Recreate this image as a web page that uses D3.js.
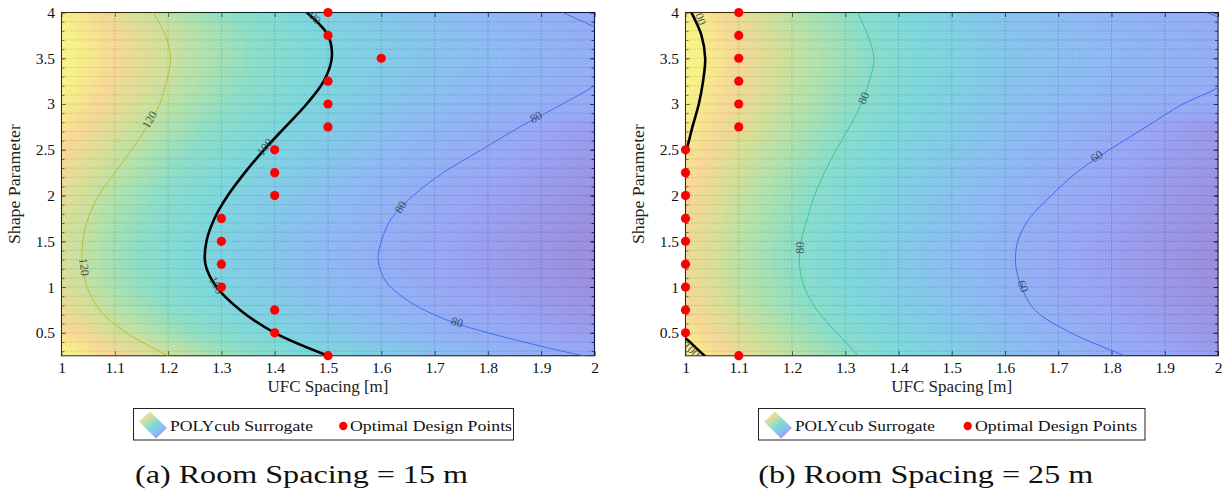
<!DOCTYPE html>
<html>
<head>
<meta charset="utf-8">
<script src="https://cdn.jsdelivr.net/npm/d3@7"></script>
<style>
  body { margin: 0; background: #fff; }
  svg { display: block; font-family: "Liberation Serif", "Times New Roman", serif; }
</style>
</head>
<body>
<svg id="chart" width="1226" height="492"></svg>
<script>
// ---------------- data ----------------
const xTicks = [1, 1.1, 1.2, 1.3, 1.4, 1.5, 1.6, 1.7, 1.8, 1.9, 2];
const xTickLabels = ["1", "1.1", "1.2", "1.3", "1.4", "1.5", "1.6", "1.7", "1.8", "1.9", "2"];
const yTicks = [0.5, 1, 1.5, 2, 2.5, 3, 3.5, 4];
const yTickLabels = ["0.5", "1", "1.5", "2", "2.5", "3", "3.5", "4"];

// surrogate surface samples: columns = UFC spacing, rows = shape parameter
const ufcSpacing = [1.0, 1.1, 1.2, 1.3, 1.4, 1.5, 1.6, 1.7, 1.8, 1.9, 2.0];
const shapeParameter = [0.25, 0.5, 0.75, 1.0, 1.25, 1.5, 1.75, 2.0, 2.25, 2.5, 2.75, 3.0, 3.25, 3.5, 3.75, 4.0];

const surrogate15 = [
  [144.0, 132.2, 122.2, 113.7, 106.4, 100.0, 94.3, 89.3, 84.8, 80.8, 77.2],
  [135.4, 124.3, 114.9, 106.9, 100.0, 94.0, 88.7, 84.0, 79.8, 76.0, 72.6],
  [129.7, 119.0, 110.1, 102.4, 95.8, 90.1, 85.0, 80.5, 76.4, 72.8, 69.5],
  [125.8, 115.5, 106.8, 99.3, 92.9, 87.3, 82.4, 78.0, 74.1, 70.6, 67.4],
  [124.0, 113.8, 105.2, 97.9, 91.6, 86.1, 81.2, 76.9, 73.1, 69.6, 66.5],
  [124.2, 114.0, 105.4, 98.1, 91.7, 86.2, 81.4, 77.0, 73.2, 69.7, 66.6],
  [125.6, 115.3, 106.6, 99.2, 92.8, 87.2, 82.3, 77.9, 74.0, 70.5, 67.3],
  [127.5, 117.0, 108.2, 100.7, 94.2, 88.5, 83.5, 79.1, 75.1, 71.6, 68.3],
  [130.5, 119.8, 110.8, 103.1, 96.4, 90.6, 85.5, 80.9, 76.9, 73.2, 69.9],
  [133.5, 122.5, 113.3, 105.4, 98.6, 92.7, 87.5, 82.8, 78.7, 74.9, 71.5],
  [137.0, 125.7, 116.3, 108.2, 101.2, 95.1, 89.7, 85.0, 80.7, 76.9, 73.4],
  [140.6, 129.0, 119.3, 111.0, 103.9, 97.6, 92.1, 88.0, 84.4, 81.4, 78.9],
  [143.4, 131.6, 121.7, 113.2, 105.9, 99.6, 93.9, 89.8, 86.0, 82.7, 79.9],
  [144.6, 132.7, 122.7, 114.2, 106.8, 100.4, 94.7, 90.6, 86.9, 83.6, 80.6],
  [144.0, 132.2, 122.2, 113.7, 106.4, 100.0, 94.3, 90.3, 86.6, 83.3, 80.3],
  [140.6, 129.0, 119.3, 111.0, 103.9, 97.6, 92.1, 88.2, 84.8, 81.8, 79.2]
];

const surrogate25 = [
  [103.1, 94.6, 87.5, 81.4, 76.2, 71.6, 67.5, 64.0, 60.7, 57.9, 55.3],
  [100.1, 91.9, 85.0, 79.0, 73.9, 69.5, 65.6, 62.1, 59.0, 56.2, 53.6],
  [97.4, 89.4, 82.7, 76.9, 71.9, 67.6, 63.8, 60.4, 57.4, 54.7, 52.2],
  [95.9, 88.0, 81.4, 75.7, 70.8, 66.6, 62.8, 59.5, 56.5, 53.8, 51.4],
  [95.3, 87.5, 80.9, 75.3, 70.4, 66.2, 62.4, 59.1, 56.2, 53.5, 51.1],
  [95.5, 87.6, 81.1, 75.4, 70.5, 66.3, 62.6, 59.2, 56.3, 53.6, 51.2],
  [96.3, 88.4, 81.7, 76.0, 71.1, 66.9, 63.1, 59.7, 56.7, 54.0, 51.6],
  [97.2, 89.2, 82.5, 76.8, 71.8, 67.5, 63.7, 60.3, 57.3, 54.5, 52.1],
  [98.6, 90.5, 83.7, 77.9, 72.8, 68.5, 64.6, 61.2, 58.1, 55.3, 52.8],
  [100.1, 91.9, 85.0, 79.0, 73.9, 69.5, 65.6, 62.1, 59.0, 56.2, 53.6],
  [101.9, 93.5, 86.5, 80.5, 75.3, 70.7, 66.8, 63.2, 60.0, 57.2, 54.6],
  [103.4, 94.9, 87.8, 81.7, 76.4, 71.8, 67.7, 65.0, 62.6, 60.7, 59.2],
  [104.5, 95.9, 88.7, 82.5, 77.2, 72.6, 68.5, 65.9, 63.6, 61.8, 60.3],
  [105.1, 96.5, 89.2, 83.0, 77.6, 73.0, 68.9, 66.4, 64.1, 62.2, 60.8],
  [104.2, 95.6, 88.4, 82.3, 77.0, 72.3, 68.3, 66.0, 63.8, 61.9, 60.5],
  [102.9, 94.4, 87.3, 81.3, 76.0, 71.4, 67.4, 65.0, 62.9, 61.1, 59.8]
];

// iso-lines of the surrogate, [UFC spacing, shape parameter]
const contour15_120 = [[1.2, 0.25], [1.122, 0.5], [1.072, 0.75], [1.048, 1.0], [1.039, 1.25], [1.04, 1.5], [1.05, 1.75], [1.07, 2.0], [1.10, 2.25], [1.132, 2.5], [1.16, 2.75], [1.184, 3.0], [1.197, 3.25], [1.205, 3.5], [1.195, 3.75], [1.172, 4.0]];
const contour15_100 = [[1.5, 0.25], [1.40, 0.5], [1.335, 0.75], [1.291, 1.0], [1.270, 1.25], [1.272, 1.5], [1.287, 1.75], [1.312, 2.0], [1.344, 2.25], [1.380, 2.5], [1.420, 2.75], [1.46, 3.0], [1.492, 3.25], [1.507, 3.5], [1.50, 3.75], [1.46, 4.0]];
const contour15_80 = [[1.94, 4.0], [2.0, 3.845], [2.04, 3.75], [2.06, 3.6], [2.045, 3.4], [2.0, 3.2], [1.94, 3.0], [1.86, 2.75], [1.788, 2.5], [1.716, 2.25], [1.66, 2.0], [1.619, 1.75], [1.60, 1.5], [1.594, 1.3], [1.607, 1.076], [1.648, 0.858], [1.723, 0.64], [1.804, 0.494], [1.891, 0.366], [1.973, 0.257], [1.99, 0.24]];

const contour25_100a = [[1.011, 4.0], [1.03, 3.75], [1.037, 3.5], [1.033, 3.25], [1.025, 3.0], [1.013, 2.75], [1.002, 2.5], [0.99, 2.3]];
const contour25_100b = [[0.99, 0.47], [1.0, 0.44], [1.036, 0.25], [1.05, 0.2]];
const contour25_80 = [[1.323, 4.0], [1.342, 3.75], [1.354, 3.5], [1.345, 3.25], [1.33, 3.0], [1.308, 2.75], [1.283, 2.5], [1.261, 2.25], [1.242, 2.0], [1.229, 1.75], [1.217, 1.5], [1.214, 1.25], [1.223, 1.0], [1.247, 0.75], [1.284, 0.5], [1.325, 0.25]];
const contour25_60 = [[1.978, 4.0], [2.0, 3.95], [2.04, 3.8], [2.06, 3.6], [2.04, 3.37], [2.0, 3.18], [1.934, 3.0], [1.865, 2.75], [1.796, 2.5], [1.734, 2.25], [1.687, 2.0], [1.646, 1.75], [1.624, 1.5], [1.62, 1.25], [1.631, 1.0], [1.656, 0.75], [1.724, 0.5], [1.825, 0.25]];

// optimal design points, [UFC spacing, shape parameter]
const optimal15 = [[1.5, 4.0], [1.5, 3.75], [1.6, 3.5], [1.5, 3.25], [1.5, 3.0], [1.5, 2.75], [1.4, 2.5], [1.4, 2.25], [1.4, 2.0], [1.3, 1.75], [1.3, 1.5], [1.3, 1.25], [1.3, 1.0], [1.4, 0.75], [1.4, 0.5], [1.5, 0.25]];
const optimal25 = [[1.1, 4.0], [1.1, 3.75], [1.1, 3.5], [1.1, 3.25], [1.1, 3.0], [1.1, 2.75], [1.0, 2.5], [1.0, 2.25], [1.0, 2.0], [1.0, 1.75], [1.0, 1.5], [1.0, 1.25], [1.0, 1.0], [1.0, 0.75], [1.0, 0.5], [1.1, 0.25]];

// ---------------- styling ----------------
const cmapStops = [0, 0.12, 0.25, 0.35, 0.45, 0.55, 0.65, 0.75, 0.85, 0.97];
const cmapColors = ["#391fbd", "#354ded", "#1f75e9", "#0997d1", "#00b1b9", "#1dbd91", "#69c559", "#b5bf31", "#f1b131", "#ede511"];
const cmap = d3.scaleLinear().domain(cmapStops).range(cmapColors).interpolate(d3.interpolateRgb).clamp(true);
const SURF_ALPHA = 0.5;

const Y_TOP = 12.5, Y_BOT = 355.7;
const svg = d3.select("#chart");
const defs = svg.append("defs");

// catmull-rom helper for smooth shading between samples
function cr(p0, p1, p2, p3, t) {
  const t2 = t * t, t3 = t2 * t;
  return 0.5 * ((2 * p1) + (-p0 + p2) * t + (2 * p0 - 5 * p1 + 4 * p2 - p3) * t2 + (-p0 + 3 * p1 - 3 * p2 + p3) * t3);
}
function sampleGrid(grid, xv, sv) {
  const nx = ufcSpacing.length, ny = shapeParameter.length;
  const i = Math.max(0, Math.min(nx - 2, d3.bisectRight(ufcSpacing, xv) - 1));
  const j = Math.max(0, Math.min(ny - 2, d3.bisectRight(shapeParameter, sv) - 1));
  const tx = Math.max(0, Math.min(1, (xv - ufcSpacing[i]) / (ufcSpacing[i + 1] - ufcSpacing[i])));
  const ty = Math.max(0, Math.min(1, (sv - shapeParameter[j]) / (shapeParameter[j + 1] - shapeParameter[j])));
  const cx = k => Math.max(0, Math.min(nx - 1, k));
  const cy = k => Math.max(0, Math.min(ny - 1, k));
  const rows = [-1, 0, 1, 2].map(dj => {
    const r = grid[cy(j + dj)];
    return cr(r[cx(i - 1)], r[cx(i)], r[cx(i + 1)], r[cx(i + 2)], tx);
  });
  return cr(rows[0], rows[1], rows[2], rows[3], ty);
}

function drawPanel(cfg) {
  const { id, x0, x1, grid, contours, labels, points, legend, caption, yTitleX } = cfg;
  const x = d3.scaleLinear().domain([1, 2]).range([x0, x1]);
  const y = d3.scaleLinear().domain([0.25, 4]).range([Y_BOT, Y_TOP]);
  const g = svg.append("g");

  defs.append("clipPath").attr("id", "clip" + id)
    .append("rect").attr("x", x0).attr("y", Y_TOP).attr("width", x1 - x0).attr("height", Y_BOT - Y_TOP);

  // dotted grid
  const yMinor = d3.range(3, 41).map(d => d / 10);
  g.append("g").selectAll("line").data(yMinor).join("line")
    .attr("x1", x0).attr("x2", x1).attr("y1", d => y(d)).attr("y2", d => y(d))
    .attr("stroke", "#6f6f6f").attr("stroke-width", 0.8).attr("stroke-dasharray", "0.9 2.1");
  g.append("g").selectAll("line").data(xTicks.slice(1, -1)).join("line")
    .attr("y1", Y_TOP).attr("y2", Y_BOT).attr("x1", d => x(d)).attr("x2", d => x(d))
    .attr("stroke", "#6f6f6f").attr("stroke-width", 0.8).attr("stroke-dasharray", "0.9 2.1");

  // axes
  const styleAxis = sel => {
    sel.select(".domain").remove();
    sel.selectAll("text").attr("font-family", "Liberation Serif, serif").attr("font-size", 15.5).attr("fill", "#111");
    sel.selectAll("line").attr("stroke", "#000").attr("stroke-width", 0.9);
  };
  g.append("g").attr("transform", `translate(0,${Y_BOT})`)
    .call(d3.axisBottom(x).tickValues(xTicks).tickFormat((d, i) => xTickLabels[i]).tickSizeInner(-4.5).tickSizeOuter(0).tickPadding(6.5))
    .call(styleAxis);
  g.append("g").attr("transform", `translate(0,${Y_TOP})`)
    .call(d3.axisTop(x).tickValues(xTicks).tickFormat("").tickSizeInner(-4.5).tickSizeOuter(0))
    .call(styleAxis);
  g.append("g").attr("transform", `translate(${x0},0)`)
    .call(d3.axisLeft(y).tickValues(yTicks).tickFormat((d, i) => yTickLabels[i]).tickSizeInner(-4.5).tickSizeOuter(0).tickPadding(6.5))
    .call(styleAxis);
  g.append("g").attr("transform", `translate(${x0},0)`)
    .call(d3.axisLeft(y).tickValues(yMinor).tickFormat("").tickSizeInner(-3).tickSizeOuter(0))
    .call(styleAxis);
  g.append("g").attr("transform", `translate(${x1},0)`)
    .call(d3.axisRight(y).tickValues(yTicks).tickFormat("").tickSizeInner(-4.5).tickSizeOuter(0))
    .call(styleAxis);
  g.append("g").attr("transform", `translate(${x1},0)`)
    .call(d3.axisRight(y).tickValues(yMinor).tickFormat("").tickSizeInner(-3).tickSizeOuter(0))
    .call(styleAxis);

  g.append("rect").attr("x", x0).attr("y", Y_TOP).attr("width", x1 - x0).attr("height", Y_BOT - Y_TOP)
    .attr("fill", "none").attr("stroke", "#000").attr("stroke-width", 1.1);

  // translucent shaded surface
  const [vmin, vmax] = d3.extent(grid.flat());
  const w = Math.round(x1 - x0), h = Math.round(Y_BOT - Y_TOP);
  const canvas = document.createElement("canvas");
  canvas.width = w; canvas.height = h;
  const ctx = canvas.getContext("2d");
  const img = ctx.createImageData(w, h);
  for (let py = 0; py < h; py++) {
    const sv = y.invert(Y_TOP + (py + 0.5) * (Y_BOT - Y_TOP) / h);
    for (let px = 0; px < w; px++) {
      const xv = x.invert(x0 + (px + 0.5) * (x1 - x0) / w);
      const v = sampleGrid(grid, xv, sv);
      const c = d3.rgb(cmap((v - vmin) / (vmax - vmin)));
      const k = (py * w + px) * 4;
      img.data[k] = c.r; img.data[k + 1] = c.g; img.data[k + 2] = c.b; img.data[k + 3] = Math.round(255 * SURF_ALPHA);
    }
  }
  ctx.putImageData(img, 0, 0);
  g.append("image").attr("href", canvas.toDataURL()).attr("x", x0).attr("y", Y_TOP)
    .attr("width", x1 - x0).attr("height", Y_BOT - Y_TOP).attr("preserveAspectRatio", "none");

  // contour lines
  const line = d3.line().x(d => x(d[0])).y(d => y(d[1])).curve(d3.curveCatmullRom.alpha(0.5));
  const cg = g.append("g").attr("clip-path", `url(#clip${id})`);
  cg.selectAll("path").data(contours).join("path")
    .attr("d", d => line(d.points)).attr("fill", "none")
    .attr("stroke", d => d.color).attr("stroke-width", d => d.width)
    .attr("stroke-linejoin", "round").attr("stroke-linecap", "round");

  // contour labels
  cg.append("g").selectAll("text").data(labels).join("text")
    .attr("transform", d => `translate(${x(d.x)},${y(d.s)}) rotate(${d.angle})`)
    .attr("text-anchor", "middle").attr("dy", "0.35em")
    .attr("font-size", 12).attr("fill", "#34404e").attr("fill-opacity", 0.9)
    .text(d => d.text);

  // optimal design points
  g.append("g").selectAll("circle").data(points).join("circle")
    .attr("cx", d => x(d[0])).attr("cy", d => y(d[1])).attr("r", 4.6).attr("fill", "#ff0000");

  // axis titles
  g.append("text").attr("x", (x0 + x1) / 2).attr("y", 392).attr("text-anchor", "middle")
    .attr("font-size", 16).attr("fill", "#222").attr("textLength", 121).attr("lengthAdjust", "spacingAndGlyphs")
    .text("UFC Spacing [m]");
  g.append("text").attr("transform", `translate(${yTitleX},${(Y_TOP + Y_BOT) / 2}) rotate(-90)`)
    .attr("text-anchor", "middle").attr("font-size", 16).attr("fill", "#222")
    .attr("textLength", 120).attr("lengthAdjust", "spacingAndGlyphs")
    .text("Shape Parameter");

  // legend
  const lg = g.append("g");
  lg.append("rect").attr("x", legend.x).attr("y", 408.5).attr("width", legend.w).attr("height", 31.5)
    .attr("fill", "#fff").attr("stroke", "#222").attr("stroke-width", 1);
  const gid = "lgGrad" + id;
  const grad = defs.append("linearGradient").attr("id", gid)
    .attr("x1", "0").attr("y1", "0").attr("x2", "0.75").attr("y2", "1");
  const legendColors = ["#f8f088", "#f8d898", "#b4e2ac", "#78d8dc", "#8fbaf4", "#9c8fde"];
  legendColors.forEach((c, i) => grad.append("stop").attr("offset", i / (legendColors.length - 1)).attr("stop-color", c));
  const ix = legend.x + 5.5;
  lg.append("polygon")
    .attr("points", [[ix, 421.5], [ix + 11, 411.5], [ix + 28, 428], [ix + 17, 438.5]].map(p => p.join(",")).join(" "))
    .attr("fill", `url(#${gid})`);
  lg.append("text").attr("x", legend.t1).attr("y", 430.5).attr("font-size", 15.5).attr("fill", "#111")
    .attr("textLength", legend.t1w).attr("lengthAdjust", "spacingAndGlyphs").text("POLYcub Surrogate");
  lg.append("circle").attr("cx", legend.dot).attr("cy", 426).attr("r", 4.2).attr("fill", "#ff0000");
  lg.append("text").attr("x", legend.t2).attr("y", 430.5).attr("font-size", 15.5).attr("fill", "#111")
    .attr("textLength", legend.t2w).attr("lengthAdjust", "spacingAndGlyphs").text("Optimal Design Points");

  // caption
  g.append("text").attr("x", caption.x).attr("y", 483).attr("font-size", 26).attr("fill", "#111")
    .attr("textLength", caption.w).attr("lengthAdjust", "spacingAndGlyphs").text(caption.text);
}

drawPanel({
  id: "a", x0: 61.5, x1: 594.5, grid: surrogate15, yTitleX: 19.5,
  contours: [
    { points: contour15_120, color: "#c4bc2c", width: 1 },
    { points: contour15_80, color: "#4a6af0", width: 1 },
    { points: contour15_100, color: "#000", width: 2.6 }
  ],
  labels: [
    { text: "120", x: 1.165, s: 2.83, angle: -59 },
    { text: "120", x: 1.043, s: 1.22, angle: 84 },
    { text: "100", x: 1.381, s: 2.53, angle: -51 },
    { text: "100", x: 1.472, s: 3.97, angle: 50 },
    { text: "100", x: 1.291, s: 1.02, angle: 62 },
    { text: "80", x: 1.89, s: 2.86, angle: -28 },
    { text: "80", x: 1.636, s: 1.875, angle: -58 },
    { text: "80", x: 1.742, s: 0.617, angle: 18 }
  ],
  points: optimal15,
  legend: { x: 133.5, w: 380, t1: 170, t1w: 143, dot: 343.3, t2: 350, t2w: 162 },
  caption: { x: 135, w: 333, text: "(a) Room Spacing = 15 m" }
});

drawPanel({
  id: "b", x0: 685.5, x1: 1218, grid: surrogate25, yTitleX: 643.5,
  contours: [
    { points: contour25_80, color: "#3ec49c", width: 1 },
    { points: contour25_60, color: "#4a64f0", width: 1 },
    { points: contour25_100a, color: "#000", width: 2.6 },
    { points: contour25_100b, color: "#000", width: 2.6 }
  ],
  labels: [
    { text: "100", x: 1.027, s: 3.96, angle: 72 },
    { text: "100", x: 1.012, s: 0.32, angle: 48 },
    { text: "80", x: 1.334, s: 3.066, angle: -66 },
    { text: "80", x: 1.215, s: 1.43, angle: -90 },
    { text: "60", x: 1.772, s: 2.43, angle: -35 },
    { text: "60", x: 1.634, s: 1.01, angle: 70 }
  ],
  points: optimal25,
  legend: { x: 758.5, w: 386.5, t1: 795, t1w: 140, dot: 967.7, t2: 975, t2w: 162.3 },
  caption: { x: 758.3, w: 335, text: "(b) Room Spacing = 25 m" }
});
</script>
</body>
</html>
